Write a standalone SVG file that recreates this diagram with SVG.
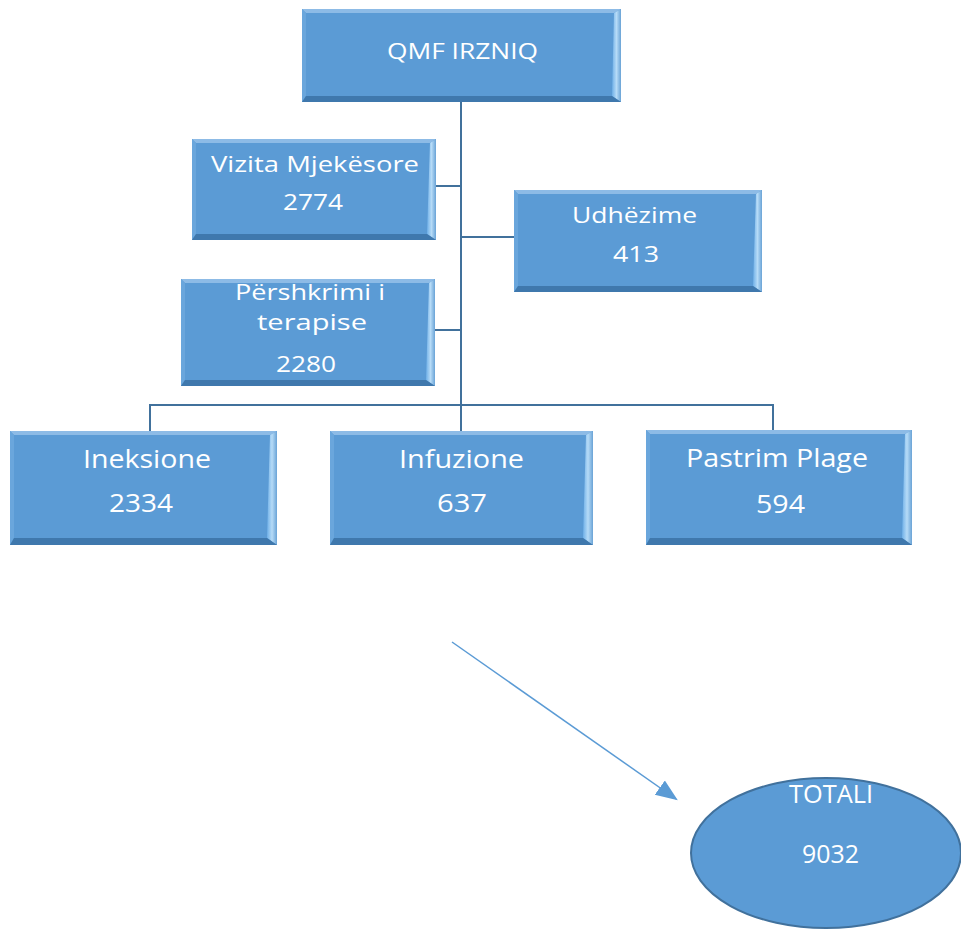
<svg xmlns="http://www.w3.org/2000/svg" width="961" height="929" viewBox="0 0 961 929">
<defs>
<style>
.main{fill:#5b9bd5}
.top{fill:#8dbbe6}
.left{fill:#6aa6dc}
.bot{fill:#3f78ad}
.right{fill:url(#rg)}
.t{font-family:"Open Sans","Liberation Sans",sans-serif;fill:#fff;font-size:22px}
.b{font-size:26px}
.e{font-size:25px}
.conn{stroke:#41719c;stroke-width:2;fill:none}
.arr{stroke:#5b9bd5;stroke-width:1.5;fill:none}
</style>
<linearGradient id="rg" x1="0" y1="0" x2="1" y2="0">
<stop offset="0" stop-color="#6fb0e8"/>
<stop offset="0.5" stop-color="#b6dbf7"/>
<stop offset="1" stop-color="#6aa3d6"/>
</linearGradient>
<marker id="ah2" viewBox="0 0 10 10" refX="9" refY="5" markerWidth="22" markerHeight="22" orient="auto" markerUnits="userSpaceOnUse">
<path d="M0,1 L10,5 L0,9 z" fill="#5b9bd5"/>
</marker>
</defs>
<rect width="961" height="929" fill="#fff"/>
<g id="connectors">
<path class="conn" d="M461,102 V405"/>
<path class="conn" d="M436,186 H461"/>
<path class="conn" d="M461,237 H514"/>
<path class="conn" d="M435,330 H461"/>
<path class="conn" d="M150,431 V405 H773 V431"/>
<path class="conn" d="M461,405 V431"/>
<path class="arr" d="M452,642 L676,799" marker-end="url(#ah2)"/>
</g>
<g id="n-qmf">
<rect class="main" x="302" y="9" width="319" height="93"/>
<polygon class="top" points="302,9 621,9 614,13 306,13"/>
<polygon class="left" points="302,9 306,13 306,96 302,102"/>
<polygon class="right" points="621,9 621,102 612,96 614,13"/>
<polygon class="bot" points="302,102 621,102 612,96 306,96"/>
<text class="t" x="387" y="59" textLength="151" lengthAdjust="spacingAndGlyphs">QMF IRZNIQ</text>
</g>
<g id="n-vizita">
<rect class="main" x="192" y="139" width="244" height="101"/>
<polygon class="top" points="192,139 436,139 430,143 196,143"/>
<polygon class="left" points="192,139 196,143 196,234 192,240"/>
<polygon class="right" points="436,139 436,240 427,234 430,143"/>
<polygon class="bot" points="192,240 436,240 427,234 196,234"/>
<text class="t" x="211" y="172" textLength="208" lengthAdjust="spacingAndGlyphs">Vizita Mjekësore</text>
<text class="t" x="283" y="210" textLength="60" lengthAdjust="spacingAndGlyphs">2774</text>
</g>
<g id="n-udhezime">
<rect class="main" x="514" y="190" width="248" height="102"/>
<polygon class="top" points="514,190 762,190 756,194 518,194"/>
<polygon class="left" points="514,190 518,194 518,286 514,292"/>
<polygon class="right" points="762,190 762,292 753,286 756,194"/>
<polygon class="bot" points="514,292 762,292 753,286 518,286"/>
<text class="t" x="572" y="223" textLength="125" lengthAdjust="spacingAndGlyphs">Udhëzime</text>
<text class="t" x="613" y="262" textLength="46" lengthAdjust="spacingAndGlyphs">413</text>
</g>
<g id="n-pershkrimi">
<rect class="main" x="181" y="279" width="254" height="107"/>
<polygon class="top" points="181,279 435,279 429,283 185,283"/>
<polygon class="left" points="181,279 185,283 185,380 181,386"/>
<polygon class="right" points="435,279 435,386 426,380 429,283"/>
<polygon class="bot" points="181,386 435,386 426,380 185,380"/>
<text class="t" x="235" y="300" textLength="150" lengthAdjust="spacingAndGlyphs">Përshkrimi i</text>
<text class="t" x="257" y="330" textLength="110" lengthAdjust="spacingAndGlyphs">terapise</text>
<text class="t" x="276" y="372" textLength="60" lengthAdjust="spacingAndGlyphs">2280</text>
</g>
<g id="n-ineksione">
<rect class="main" x="10" y="431" width="267" height="114"/>
<polygon class="top" points="10,431 277,431 270,435 14,435"/>
<polygon class="left" points="10,431 14,435 14,538 10,545"/>
<polygon class="right" points="277,431 277,545 267,538 270,435"/>
<polygon class="bot" points="10,545 277,545 267,538 14,538"/>
<text class="t b" x="83" y="468" textLength="128" lengthAdjust="spacingAndGlyphs">Ineksione</text>
<text class="t b" x="109" y="512" textLength="64" lengthAdjust="spacingAndGlyphs">2334</text>
</g>
<g id="n-infuzione">
<rect class="main" x="330" y="431" width="263" height="114"/>
<polygon class="top" points="330,431 593,431 586,435 334,435"/>
<polygon class="left" points="330,431 334,435 334,538 330,545"/>
<polygon class="right" points="593,431 593,545 583,538 586,435"/>
<polygon class="bot" points="330,545 593,545 583,538 334,538"/>
<text class="t b" x="399" y="468" textLength="125" lengthAdjust="spacingAndGlyphs">Infuzione</text>
<text class="t b" x="437" y="512" textLength="50" lengthAdjust="spacingAndGlyphs">637</text>
</g>
<g id="n-pastrim">
<rect class="main" x="646" y="430" width="266" height="115"/>
<polygon class="top" points="646,430 912,430 905,434 650,434"/>
<polygon class="left" points="646,430 650,434 650,538 646,545"/>
<polygon class="right" points="912,430 912,545 902,538 905,434"/>
<polygon class="bot" points="646,545 912,545 902,538 650,538"/>
<text class="t b" x="686" y="467" textLength="182" lengthAdjust="spacingAndGlyphs">Pastrim Plage</text>
<text class="t b" x="756" y="513" textLength="49" lengthAdjust="spacingAndGlyphs">594</text>
</g>
<g id="n-totali">
<ellipse cx="826" cy="853" rx="135" ry="75" fill="#5b9bd5" stroke="#41719c" stroke-width="2"/>
<text class="t e" x="789" y="803" textLength="84" lengthAdjust="spacingAndGlyphs">TOTALI</text>
<text class="t e" x="802" y="863" textLength="57" lengthAdjust="spacingAndGlyphs">9032</text>
</g>
</svg>
